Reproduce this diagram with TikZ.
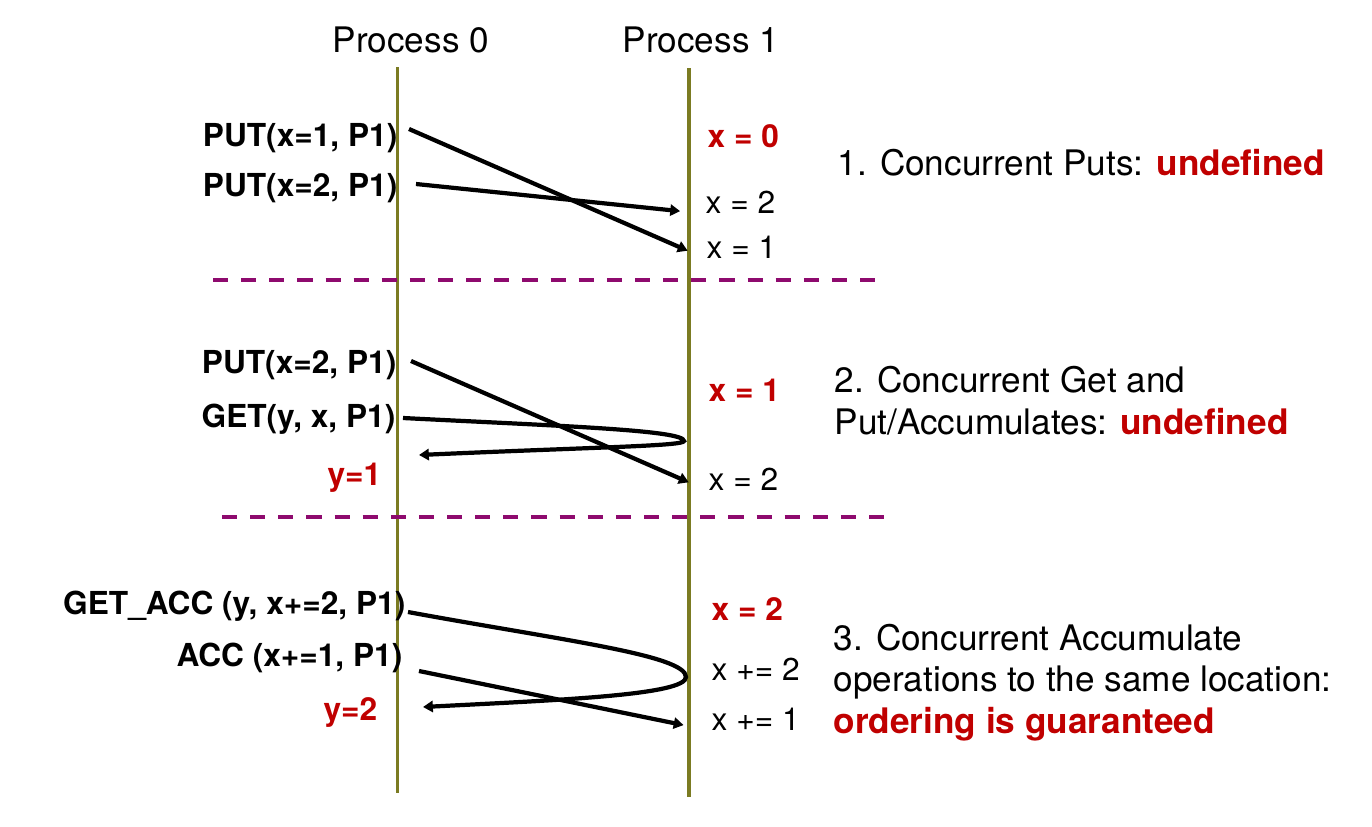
\documentclass[tikz,border=0pt]{standalone}
\usepackage{fontspec}
\setmainfont{TeX Gyre Heros}
\usepackage{xcolor}
\usetikzlibrary{arrows.meta}
\definecolor{olive600}{HTML}{7B7B22}
\definecolor{plum700}{HTML}{8E0A6E}
\definecolor{red700}{HTML}{C00000}
\tikzset{
  lifeline/.style={draw=olive600, line width=1pt},
  msg/.style={
    -{Triangle[length=2.8pt,width=3.2pt]},
    line width=1.2pt, draw=black
  },
  sepline/.style={draw=plum700, line width=1.2pt, dash pattern=on 4.3pt off 3.7pt},
  callbox/.style={font=\fontsize{9}{11}\selectfont\bfseries, inner sep=0pt, anchor=base east},
  valbox/.style={font=\fontsize{9}{11}\selectfont, inner sep=0pt, anchor=base west},
  hotval/.style={font=\fontsize{9}{11}\selectfont\bfseries, text=red700, inner sep=0pt},
  note/.style={font=\fontsize{10}{11.7}\selectfont, inner sep=0pt, anchor=base west, align=left},
}
\begin{document}
\begin{tikzpicture}[x=0.01cm, y=-0.01cm]
  \useasboundingbox (0,0) rectangle (1372,827);
  \node[note] (proc0) at (332,52) {Process 0};
  \node[note] (proc1) at (622,52) {Process 1};
  \draw[lifeline] (397.5,67) -- (397.5,793);
  \draw[lifeline] (689,68) -- (689,797);
  \draw[sepline] (213,280) -- (882,280);
  \draw[sepline] (222,517) -- (890,517);

  \node[callbox] (put1) at (398,146) {PUT(x=1, P1)};
  \node[callbox] (put2) at (398,196) {PUT(x=2, P1)};
  \node[hotval, anchor=base west] (xzero) at (707,147) {x = 0};
  \node[valbox] (xtwoA) at (705,213) {x = 2};
  \node[valbox] (xoneA) at (706,258) {x = 1};
  \coordinate (put1out) at (409,129);
  \coordinate (put2out) at (416,184);
  \draw[msg, shorten >=0.2cm] (put1out) -- (xoneA.south west);
  \draw[msg, shorten >=0.25cm] (put2out) -- (xtwoA.south west);
  \node[note] (case1) at (837,175) {1. Concurrent Puts: \textcolor{red700}{\bfseries undefined}};

  \node[callbox] (put3) at (397,373) {PUT(x=2, P1)};
  \node[callbox] (get) at (396,427) {GET(y, x, P1)};
  \node[hotval, anchor=base east] (yone) at (382,485) {y=1};
  \node[hotval, anchor=base west] (xoneB) at (708,401) {x = 1};
  \node[valbox] (xtwoB) at (708,490) {x = 2};
  \coordinate (put3out) at (411,361);
  \coordinate (getout) at (403,418);
  \coordinate (getback) at (419,455);
  \draw[msg, shorten >=0.21cm] (put3out) -- (xtwoB.south west);
  \draw[msg] (getout) .. controls (560,426) and (684,430) .. (684,441)
    .. controls (684,446) and (600,447) .. (getback);
  \node[note] (case2) at (834,434) {2. Concurrent Get and\\Put/Accumulates: \textcolor{red700}{\bfseries undefined}};

  \node[callbox] (getacc) at (406,614) {GET\_ACC (y, x+=2, P1)};
  \node[callbox] (acc) at (403,666) {ACC (x+=1, P1)};
  \node[hotval, anchor=base east] (ytwo) at (378,720) {y=2};
  \node[hotval, anchor=base west] (xtwoC) at (711,620) {x = 2};
  \node[valbox] (xaddtwo) at (711,680) {x += 2};
  \node[valbox] (xaddone) at (711,730) {x += 1};
  \coordinate (getaccout) at (408,612);
  \coordinate (getaccback) at (423,707);
  \coordinate (accout) at (419,671);
  \draw[msg] (getaccout) .. controls (560,640) and (686,655) .. (686,677)
    .. controls (686,695) and (560,700) .. (getaccback);
  \draw[msg, shorten >=0.28cm] (accout) -- (xaddone.south west);
  \node[note] (case3) at (833,733) {3. Concurrent Accumulate\\operations to the same location:\\\textcolor{red700}{\bfseries ordering is guaranteed}};
\end{tikzpicture}
\end{document}
